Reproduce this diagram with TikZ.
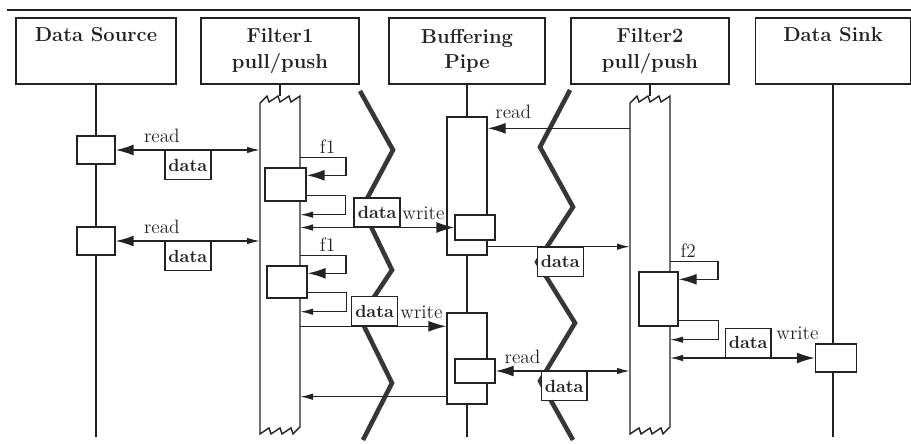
\documentclass[tikz,border=0pt]{standalone}
\usepackage{tikz}
\usetikzlibrary{arrows.meta, positioning, calc}
\definecolor{cLine}{RGB}{35,35,35}
\definecolor{cZig}{RGB}{55,55,55}
\tikzset{
	hdr/.style    ={rectangle, draw, minimum width=3.16cm, minimum height=1.32cm, align=center, font=\fontsize{11.5}{14.5}\selectfont\bfseries},
	act/.style    ={rectangle, draw, fill=white, minimum width=0.8cm, inner sep=0pt},
	bar/.style    ={rectangle, minimum width=0.8cm, minimum height=6.76cm, inner sep=0pt, outer sep=0pt},
	dbox/.style   ={rectangle, draw, fill=white, minimum width=0.92cm, minimum height=0.58cm, inner sep=1pt, font=\fontsize{10}{12}\selectfont\bfseries},
	lbl/.style    ={inner sep=2pt},
	zig/.style    ={cZig, line width=2.6pt, line join=miter},
	% message arrows
	msgcall/.style={-{Latex[length=0.36cm, width=0.22cm]}},
	msgret/.style ={-{Latex[length=0.26cm, width=0.13cm]}},
	msgboth/.style={{Latex[length=0.26cm, width=0.13cm]}-{Latex[length=0.36cm, width=0.22cm]}},
}
\begin{document}
\begin{tikzpicture}[x=0.02cm, y=-0.02cm, color=cLine, line width=0.8pt, font=\fontsize{11}{13}\selectfont]
	\useasboundingbox (0,0) rectangle (911,443);
	\draw (7,10) -- (911,10);
	% header row
	\node[hdr, minimum width=3.2cm] (src) at (96,51) {Data Source\\\strut};
	\node[hdr] (flt1) at (280,51) {Filter1\\pull/push};
	\node[hdr, minimum width=3.12cm] (pipe) at (467,51) {Buffering\\Pipe};
	\node[hdr] (flt2) at (650,51) {Filter2\\pull/push};
	\node[hdr, minimum width=3.1cm] (sink) at (833,51) {Data Sink\\\strut};
	\coordinate (bot) at (0,437);
	% process borders
	\draw[zig] (360,91) -- (393,150) -- (362,208) -- (392,270) -- (360,318) -- (392,383) -- (363,440);
	\draw[zig] (570,90) -- (540,147) -- (573,207) -- (537,262) -- (575,323) -- (540,381) -- (573,440);
	% lifelines
	\draw (src) -- (src |- bot);
	\draw (sink) -- (sink |- bot);
	\node[bar] (b1) at (280,265) {};
	\node[bar] (b2) at (650,265) {};
	\draw (flt1) -- (b1);
	\draw (flt2) -- (b2);
	\foreach \b in {b1,b2}
		\draw ([yshift=-0.14cm]\b.north west) -- ++(0.14cm,0.14cm) -- ++(0.04cm,-0.12cm) -- ++(0.18cm,0.12cm)
			-- ++(0.04cm,-0.12cm) -- ++(0.18cm,0.12cm) -- ++(0.04cm,-0.12cm) -- ++(0.18cm,0.12cm)
			-- ([yshift=0.14cm]\b.south east) -- ++(-0.14cm,-0.14cm) -- ++(-0.04cm,0.12cm) -- ++(-0.18cm,-0.12cm)
			-- ++(-0.04cm,0.12cm) -- ++(-0.18cm,-0.12cm) -- ++(-0.04cm,0.12cm) -- ++(-0.18cm,-0.12cm) -- cycle;
	\node[act, minimum width=0.76cm, minimum height=0.56cm] (sa) at (96,150) {};
	\node[act, minimum width=0.76cm, minimum height=0.56cm] (sb) at (96,241) {};
	\node[act, minimum width=0.82cm, minimum height=0.56cm] (sk) at (836,358) {};
	\node[act, minimum height=2.76cm] (pa1) at (467,186) {};
	\node[act, minimum height=0.5cm] (pb1) at (475,227.5) {};
	\node[act, minimum height=1.82cm] (pa2) at (467,358.5) {};
	\node[act, minimum height=0.48cm] (pb2) at (475,371) {};
	\draw (pipe) -- (pa1);
	\draw (pa1) -- (pa2);
	\draw (pa2) -- (pipe |- bot);
	\node[act, minimum width=0.82cm, minimum height=0.66cm] (fa1) at (285.5,184.5) {};
	\node[act, minimum height=0.64cm] (fa2) at (287,282) {};
	\node[act, minimum width=0.78cm, minimum height=1.08cm] (fb) at (658.5,299) {};
	% filter steps
	\draw[msgcall] ($(fa1.north -| b1.east)+(0,0.2cm)$) -- node[lbl, above, pos=0.6] {f1} ++(46,0) |- ($(fa1.north east)+(0,-0.16cm)$);
	\draw[msgret] ($(fa1.south east)+(0,0.12cm)$) -- ++(39,0) |- ($(fa1.south -| b1.east)+(0,-0.26cm)$);
	\draw[msgcall] ($(fa2.north -| b1.east)+(0,0.2cm)$) -- node[lbl, above, pos=0.6] {f1} ++(46,0) |- ($(fa2.north east)+(0,-0.16cm)$);
	\draw[msgret] ($(fa2.south east)+(0,0.12cm)$) -- ++(39,0) |- ($(fa2.south -| b1.east)+(0,-0.26cm)$);
	\draw[msgcall] ($(fb.north -| b2.east)+(0,0.2cm)$) -- node[lbl, above, pos=0.38] {f2} ++(48,0) |- ($(fb.north east)+(0,-0.16cm)$);
	\draw[msgret] ($(fb.south east)+(0,0.12cm)$) -- ++(40,0) |- ($(fb.south -| b2.east)+(0,-0.26cm)$);
	% messages
	\draw[msgboth] (sa -| b1.west) -- node[lbl, above=2pt, pos=0.68] {read} node[dbox, below, pos=0.5] {data} (sa);
	\draw[msgboth] (sb -| b1.west) -- node[lbl, above=2pt, pos=0.68] {read} node[dbox, below, pos=0.5] {data} (sb);
	\draw[msgboth] (pb1 -| b1.east) -- node[dbox, above, pos=0.5] {data} node[lbl, above=2pt, pos=0.8] {write} (pb1);
	\draw[msgcall] ($(pa2.north -| b1.east)+(0,-0.28cm)$) -- node[dbox, above, pos=0.51] {data} node[lbl, above=2pt, pos=0.83] {write} ($(pa2.north west)+(0,-0.28cm)$);
	\draw[msgret] ($(pa2.south west)+(0,0.16cm)$) -- ($(pa2.south -| b1.east)+(0,0.16cm)$);
	\draw[msgcall] ($(pa1.north -| b2.west)+(0,-0.24cm)$) -- node[lbl, above=3pt, pos=0.82] {read} ($(pa1.north east)+(0,-0.24cm)$);
	\draw[msgret] ($(pa1.south east)+(0,0.18cm)$) -- node[dbox, below, pos=0.51] {data} ($(pa1.south -| b2.west)+(0,0.18cm)$);
	\draw[msgboth] (pb2 -| b2.west) -- node[dbox, below, pos=0.49] {data} node[lbl, above=2pt, pos=0.8] {read} (pb2);
	\draw[msgboth] (sk -| b2.east) -- node[dbox, above, pos=0.54] {data} node[lbl, above=8pt, pos=0.88] {write} (sk);
\end{tikzpicture}
\end{document}
